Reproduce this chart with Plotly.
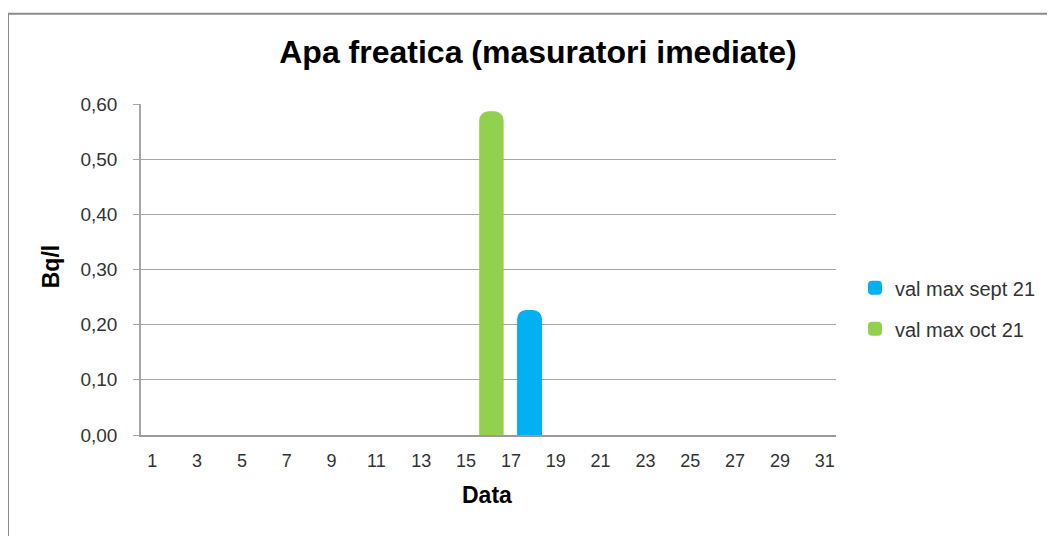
import plotly.graph_objects as go

days = list(range(1, 32))
sept_vals = [None] * 31
sept_vals[17] = 0.225   # day 18
oct_vals = [None] * 31
oct_vals[15] = 0.585    # day 16
tick_days = list(range(1, 32, 2))
y_ticks = [0.0, 0.1, 0.2, 0.3, 0.4, 0.5, 0.6]
y_labels = ["0,00", "0,10", "0,20", "0,30", "0,40", "0,50", "0,60"]

FONT = "Liberation Sans, Arial, sans-serif"
W, H = 1055, 536
S = 8  # page body offset
L, R, T, B = 141 - S, 836 - S, 103.5 - S, 435 - S
pw, ph = R - L, B - T

def px(x):
    return (x - S - L) / pw

def py(y):
    return (B - (y - S)) / ph

fig = go.Figure()
fig.add_trace(go.Bar(x=days, y=sept_vals, name="val max sept 21", legendgroup="a",
                     marker=dict(color="#00B0F0", cornerradius=8, line=dict(width=2, color="#00B0F0")),
                     width=1.02, offset=-0.68))
fig.add_trace(go.Bar(x=days, y=oct_vals, name="val max oct 21", legendgroup="b",
                     marker=dict(color="#92D050", cornerradius=8, line=dict(width=2, color="#92D050")),
                     width=1.0, offset=-0.37))

fig.update_layout(
    width=W, height=H,
    margin=dict(l=L, r=W - R, t=T, b=H - B, pad=0),
    paper_bgcolor="white", plot_bgcolor="white",
    barmode="overlay",
    title=dict(text="<b>Apa freatica (masuratori imediate)</b>", x=(538 - S) / W, xanchor="center",
               y=1 - (52 - S) / H, yanchor="middle", font=dict(family=FONT, size=32, color="black")),
    font=dict(family=FONT, size=18, color="#333333"),
    legend=dict(x=px(855), y=py(308), xanchor="left", yanchor="middle",
                font=dict(family=FONT, size=20, color="#333333"),
                itemwidth=30, traceorder="grouped", tracegroupgap=12, bgcolor="rgba(0,0,0,0)"),
    showlegend=True,
    xaxis=dict(range=[0.5, 31.5], tickmode="array", tickvals=tick_days,
               ticktext=[str(d) for d in tick_days], showgrid=False, zeroline=False,
               showline=True, linecolor="#9a9a9a", linewidth=1.5, ticks="",
               ticklabelstandoff=9,
               tickfont=dict(family=FONT, size=18, color="#333333")),
    yaxis=dict(range=[0, 0.6], tickmode="array", tickvals=y_ticks, ticktext=y_labels,
               showgrid=True, gridcolor="#a6a6a6", gridwidth=1, zeroline=False,
               showline=True, linecolor="#a6a6a6", linewidth=1.5,
               ticks="outside", ticklen=6, tickcolor="#a6a6a6",
               ticklabelstandoff=12,
               tickfont=dict(family=FONT, size=19, color="#333333")),
)

fig.add_annotation(text="<b>Data</b>", xref="paper", yref="paper", x=px(487), y=py(495),
                   xanchor="center", yanchor="middle", showarrow=False,
                   font=dict(family=FONT, size=23, color="black"))
fig.add_annotation(text="<b>Bq/l</b>", xref="paper", yref="paper", x=px(51), y=py(267),
                   xanchor="center", yanchor="middle", showarrow=False, textangle=-90,
                   font=dict(family=FONT, size=23, color="black"))

fig.add_shape(type="rect", xref="paper", yref="paper",
              x0=px(8), x1=px(W + 30),
              y0=py(H + 30), y1=py(13),
              line=dict(color="#8c8c8c", width=2), fillcolor="rgba(0,0,0,0)", layer="below")

fig.write_html("out.html")
